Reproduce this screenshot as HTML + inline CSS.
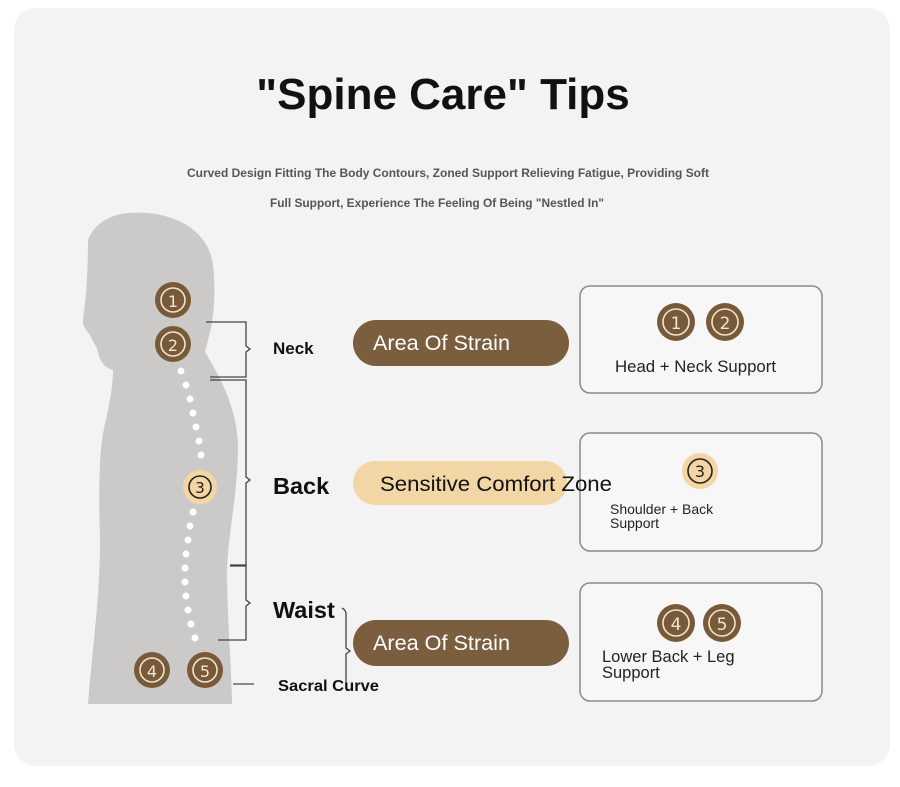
<!DOCTYPE html>
<html><head><style>
body{margin:0;background:#fff;}
svg{display:block;font-family:"Liberation Sans",sans-serif;}
</style></head><body>
<svg width="900" height="787" viewBox="0 0 900 787" xmlns="http://www.w3.org/2000/svg">
<rect x="0" y="0" width="900" height="787" fill="#ffffff"/>
<rect x="14" y="8" width="876" height="758" rx="22" fill="#f3f3f3"/>
<text x="443" y="109" text-anchor="middle" font-size="44" font-weight="bold" fill="#111">"Spine Care" Tips</text>
<text x="448" y="177" text-anchor="middle" font-size="11.6" font-weight="bold" fill="#555" textLength="522" lengthAdjust="spacingAndGlyphs">Curved Design Fitting The Body Contours, Zoned Support Relieving Fatigue, Providing Soft</text>
<text x="437" y="207" text-anchor="middle" font-size="11.6" font-weight="bold" fill="#555" textLength="334" lengthAdjust="spacingAndGlyphs">Full Support, Experience The Feeling Of Being "Nestled In"</text>

<path d="M130 213 C165 210 208 225 213 265 C216 295 214 320 208 340 L205 352 C222 380 237 410 238 445 C238 500 226 540 227 580 C228 630 232 680 232 704 L88 704 C92 650 100 600 100 540 C98 480 100 440 106 420 C110 400 113 385 113 370 C105 368 100 362 98 352 C96 345 92 340 90 335 C86 330 82 325 83 320 C86 300 88 270 88 240 C95 222 112 214 130 213 Z" fill="#cbcac8"/>

<g fill="#fff">
<circle cx="181" cy="371" r="3.5"/><circle cx="186" cy="385" r="3.5"/><circle cx="190" cy="399" r="3.5"/><circle cx="193" cy="413" r="3.5"/><circle cx="196" cy="427" r="3.5"/><circle cx="199" cy="441" r="3.5"/><circle cx="201" cy="455" r="3.5"/>
<circle cx="193" cy="512" r="3.5"/><circle cx="190" cy="526" r="3.5"/><circle cx="188" cy="540" r="3.5"/><circle cx="186" cy="554" r="3.5"/><circle cx="185" cy="568" r="3.5"/><circle cx="185" cy="582" r="3.5"/><circle cx="186" cy="596" r="3.5"/><circle cx="188" cy="610" r="3.5"/><circle cx="191" cy="624" r="3.5"/><circle cx="195" cy="638" r="3.5"/>
</g>

<g text-anchor="middle" fill="#f0e6d6" font-family="DejaVu Sans,sans-serif">
<circle cx="173" cy="300" r="18" fill="#785a38"/><circle cx="173" cy="300" r="12" fill="none" stroke="#efe4d2" stroke-width="1.6"/><text x="173" y="307" font-size="16">1</text>
<circle cx="173" cy="344" r="18" fill="#785a38"/><circle cx="173" cy="344" r="12" fill="none" stroke="#efe4d2" stroke-width="1.6"/><text x="173" y="351" font-size="16">2</text>
<circle cx="200" cy="487" r="17" fill="#f3d6a4"/><circle cx="200" cy="487" r="11" fill="none" stroke="#222" stroke-width="1.6"/><text x="200" y="493" font-size="15" fill="#222">3</text>
<circle cx="152" cy="670" r="18" fill="#785a38"/><circle cx="152" cy="670" r="12" fill="none" stroke="#efe4d2" stroke-width="1.6"/><text x="152" y="677" font-size="16">4</text>
<circle cx="205" cy="670" r="18" fill="#785a38"/><circle cx="205" cy="670" r="12" fill="none" stroke="#efe4d2" stroke-width="1.6"/><text x="205" y="677" font-size="16">5</text>
</g>

<g fill="none" stroke="#444" stroke-width="1.3">
<path d="M206 322 H246 V346 L250 349 L246 352 V377 H210"/>
<path d="M210 380 H246 V477 L250 480 L246 483 V565 H230"/>
<path d="M230 566 H246 V600 L250 603 L246 606 V640 H218"/>
<path d="M342 608 Q346 610 346 614 V648 L350 651 L346 654 V684"/>
</g>
<line x1="233" y1="684" x2="254" y2="684" stroke="#666" stroke-width="1.5"/>

<g fill="#111" font-weight="bold">
<text x="273" y="354" font-size="17">Neck</text>
<text x="273" y="494" font-size="23.5">Back</text>
<text x="273" y="618" font-size="23.5">Waist</text>
<text x="278" y="691" font-size="16" textLength="101" lengthAdjust="spacingAndGlyphs">Sacral Curve</text>
</g>

<g fill="#f7f7f7" stroke="#8a8a8a" stroke-width="1.5">
<rect x="580" y="286" width="242" height="107" rx="10"/>
<rect x="580" y="433" width="242" height="118" rx="10"/>
<rect x="580" y="583" width="242" height="118" rx="10"/>
</g>

<rect x="353" y="320" width="216" height="46" rx="23" fill="#7b5e3e"/>
<text x="373" y="350" font-size="21" fill="#fff" textLength="137" lengthAdjust="spacingAndGlyphs">Area Of Strain</text>
<rect x="353" y="461" width="214" height="44" rx="22" fill="#f3d6a6"/>
<text x="380" y="491" font-size="21" fill="#111" textLength="232" lengthAdjust="spacingAndGlyphs">Sensitive Comfort Zone</text>
<rect x="353" y="620" width="216" height="46" rx="23" fill="#7b5e3e"/>
<text x="373" y="650" font-size="21" fill="#fff" textLength="137" lengthAdjust="spacingAndGlyphs">Area Of Strain</text>

<g text-anchor="middle" font-family="DejaVu Sans,sans-serif" fill="#f0e6d6">
<circle cx="676" cy="322" r="19" fill="#785a38"/><circle cx="676" cy="322" r="13" fill="none" stroke="#efe4d2" stroke-width="1.6"/><text x="676" y="329" font-size="17">1</text>
<circle cx="725" cy="322" r="19" fill="#785a38"/><circle cx="725" cy="322" r="13" fill="none" stroke="#efe4d2" stroke-width="1.6"/><text x="725" y="329" font-size="17">2</text>
<circle cx="700" cy="471" r="18" fill="#f3d6a4"/><circle cx="700" cy="471" r="12" fill="none" stroke="#222" stroke-width="1.6"/><text x="700" y="477" font-size="16" fill="#222">3</text>
<circle cx="676" cy="623" r="19" fill="#785a38"/><circle cx="676" cy="623" r="13" fill="none" stroke="#efe4d2" stroke-width="1.6"/><text x="676" y="630" font-size="17">4</text>
<circle cx="722" cy="623" r="19" fill="#785a38"/><circle cx="722" cy="623" r="13" fill="none" stroke="#efe4d2" stroke-width="1.6"/><text x="722" y="630" font-size="17">5</text>
</g>
<g fill="#222">
<text x="615" y="372" font-size="16.5" textLength="161" lengthAdjust="spacingAndGlyphs">Head + Neck Support</text>
<text x="610" y="514" font-size="14">Shoulder + Back</text>
<text x="610" y="528" font-size="14">Support</text>
<text x="602" y="662" font-size="16.5">Lower Back + Leg</text>
<text x="602" y="678" font-size="16.5">Support</text>
</g>
</svg>
</body></html>
